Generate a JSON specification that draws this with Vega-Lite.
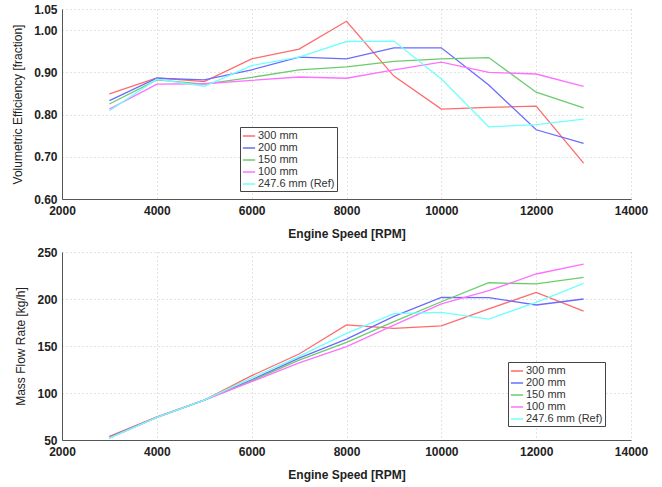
{
  "$schema": "https://vega.github.io/schema/vega-lite/v6.json",
  "padding": {"left": 11, "top": 3, "right": 5, "bottom": 3},
  "background": "white",
  "config": {
    "font": "Liberation Sans",
    "view": {"stroke": null},
    "axis": {
      "labelFont": "Liberation Sans", "labelFontSize": 12, "labelFontWeight": "bold", "labelColor": "#222",
      "titleFont": "Liberation Sans", "titleFontSize": 12, "titleColor": "#222",
      "ticks": false, "labelPadding": 5, "labelFlush": false,
      "domainColor": "#555", "domainWidth": 1,
      "gridColor": "#c8c8c8", "gridDash": [1, 3], "gridWidth": 1
    },
    "axisX": {"labelPadding": 6, "titlePadding": 12},
    "legend": {
      "labelFont": "Liberation Sans", "labelFontSize": 11, "labelColor": "#333",
      "symbolType": "stroke", "symbolSize": 150, "symbolStrokeWidth": 1.5,
      "strokeColor": "#444", "fillColor": "white", "padding": 2, "rowPadding": 0, "labelOffset": 2
    }
  },
  "datasets": {
    "runs": [
      {"rpm": 3000, "series": "300 mm", "ve": 0.849, "mfr": 54},
      {"rpm": 4000, "series": "300 mm", "ve": 0.887, "mfr": 74.5},
      {"rpm": 5000, "series": "300 mm", "ve": 0.878, "mfr": 92.5},
      {"rpm": 6000, "series": "300 mm", "ve": 0.932, "mfr": 118.4},
      {"rpm": 7000, "series": "300 mm", "ve": 0.955, "mfr": 141.5},
      {"rpm": 8000, "series": "300 mm", "ve": 1.021, "mfr": 172.5},
      {"rpm": 9000, "series": "300 mm", "ve": 0.891, "mfr": 168.8},
      {"rpm": 10000, "series": "300 mm", "ve": 0.813, "mfr": 171.5},
      {"rpm": 11000, "series": "300 mm", "ve": 0.817, "mfr": 189.4},
      {"rpm": 12000, "series": "300 mm", "ve": 0.820, "mfr": 207},
      {"rpm": 13000, "series": "300 mm", "ve": 0.685, "mfr": 187},
      {"rpm": 3000, "series": "200 mm", "ve": 0.833, "mfr": 53},
      {"rpm": 4000, "series": "200 mm", "ve": 0.886, "mfr": 74},
      {"rpm": 5000, "series": "200 mm", "ve": 0.882, "mfr": 92.5},
      {"rpm": 6000, "series": "200 mm", "ve": 0.906, "mfr": 114},
      {"rpm": 7000, "series": "200 mm", "ve": 0.936, "mfr": 137},
      {"rpm": 8000, "series": "200 mm", "ve": 0.932, "mfr": 157.4},
      {"rpm": 9000, "series": "200 mm", "ve": 0.958, "mfr": 181.6},
      {"rpm": 10000, "series": "200 mm", "ve": 0.958, "mfr": 201.8},
      {"rpm": 11000, "series": "200 mm", "ve": 0.870, "mfr": 201.5},
      {"rpm": 12000, "series": "200 mm", "ve": 0.764, "mfr": 193.6},
      {"rpm": 13000, "series": "200 mm", "ve": 0.732, "mfr": 200},
      {"rpm": 3000, "series": "150 mm", "ve": 0.825, "mfr": 52.5},
      {"rpm": 4000, "series": "150 mm", "ve": 0.882, "mfr": 74},
      {"rpm": 5000, "series": "150 mm", "ve": 0.872, "mfr": 92.5},
      {"rpm": 6000, "series": "150 mm", "ve": 0.888, "mfr": 113},
      {"rpm": 7000, "series": "150 mm", "ve": 0.906, "mfr": 135},
      {"rpm": 8000, "series": "150 mm", "ve": 0.913, "mfr": 153.9},
      {"rpm": 9000, "series": "150 mm", "ve": 0.926, "mfr": 175.9},
      {"rpm": 10000, "series": "150 mm", "ve": 0.932, "mfr": 197.1},
      {"rpm": 11000, "series": "150 mm", "ve": 0.935, "mfr": 217.3},
      {"rpm": 12000, "series": "150 mm", "ve": 0.853, "mfr": 216},
      {"rpm": 13000, "series": "150 mm", "ve": 0.816, "mfr": 223},
      {"rpm": 3000, "series": "100 mm", "ve": 0.813, "mfr": 52},
      {"rpm": 4000, "series": "100 mm", "ve": 0.872, "mfr": 74},
      {"rpm": 5000, "series": "100 mm", "ve": 0.873, "mfr": 92.5},
      {"rpm": 6000, "series": "100 mm", "ve": 0.881, "mfr": 112},
      {"rpm": 7000, "series": "100 mm", "ve": 0.889, "mfr": 132},
      {"rpm": 8000, "series": "100 mm", "ve": 0.886, "mfr": 149.3},
      {"rpm": 9000, "series": "100 mm", "ve": 0.906, "mfr": 172.3},
      {"rpm": 10000, "series": "100 mm", "ve": 0.924, "mfr": 194.7},
      {"rpm": 11000, "series": "100 mm", "ve": 0.900, "mfr": 208.8},
      {"rpm": 12000, "series": "100 mm", "ve": 0.896, "mfr": 226.6},
      {"rpm": 13000, "series": "100 mm", "ve": 0.867, "mfr": 237},
      {"rpm": 3000, "series": "247.6 mm (Ref)", "ve": 0.809, "mfr": 52},
      {"rpm": 4000, "series": "247.6 mm (Ref)", "ve": 0.884, "mfr": 74},
      {"rpm": 5000, "series": "247.6 mm (Ref)", "ve": 0.867, "mfr": 92.5},
      {"rpm": 6000, "series": "247.6 mm (Ref)", "ve": 0.916, "mfr": 116},
      {"rpm": 7000, "series": "247.6 mm (Ref)", "ve": 0.936, "mfr": 139},
      {"rpm": 8000, "series": "247.6 mm (Ref)", "ve": 0.973, "mfr": 163.5},
      {"rpm": 9000, "series": "247.6 mm (Ref)", "ve": 0.974, "mfr": 184.4},
      {"rpm": 10000, "series": "247.6 mm (Ref)", "ve": 0.884, "mfr": 185.8},
      {"rpm": 11000, "series": "247.6 mm (Ref)", "ve": 0.771, "mfr": 178.7},
      {"rpm": 12000, "series": "247.6 mm (Ref)", "ve": 0.776, "mfr": 196.5},
      {"rpm": 13000, "series": "247.6 mm (Ref)", "ve": 0.789, "mfr": 216.7}
    ]
  },
  "spacing": 7,
  "resolve": {"legend": {"color": "independent"}},
  "vconcat": [
    {
      "width": 569,
      "height": 190,
      "data": {"name": "runs"},
      "mark": {"type": "line", "strokeWidth": 1.3},
      "encoding": {
        "x": {"field": "rpm", "type": "quantitative", "scale": {"domain": [2000, 14000], "nice": false},
              "axis": {"title": "Engine Speed [RPM]", "titleFontWeight": "bold", "values": [2000, 4000, 6000, 8000, 10000, 12000, 14000], "format": "d"}},
        "y": {"field": "ve", "type": "quantitative", "scale": {"domain": [0.6, 1.05], "nice": false, "zero": false},
              "axis": {"title": "Volumetric Efficiency [fraction]", "titleFontWeight": "normal", "values": [0.6, 0.7, 0.8, 0.9, 1.0, 1.05], "format": ".2f", "titlePadding": 9}},
        "color": {"field": "series", "type": "nominal",
                  "scale": {"domain": ["300 mm", "200 mm", "150 mm", "100 mm", "247.6 mm (Ref)"], "range": ["#ff6b6b", "#6b6bff", "#6ccc6c", "#ff70ff", "#70ffff"]},
                  "legend": {"title": null, "orient": "none", "legendX": 178, "legendY": 118,
                             "labelExpr": "datum.label + '\u00a0\u00a0\u00a0\u00a0'"}},
        "order": {"field": "rpm"}
      }
    },
    {
      "width": 569,
      "height": 188,
      "data": {"name": "runs"},
      "mark": {"type": "line", "strokeWidth": 1.3},
      "encoding": {
        "x": {"field": "rpm", "type": "quantitative", "scale": {"domain": [2000, 14000], "nice": false},
              "axis": {"title": "Engine Speed [RPM]", "titleFontWeight": "bold", "values": [2000, 4000, 6000, 8000, 10000, 12000, 14000], "format": "d"}},
        "y": {"field": "mfr", "type": "quantitative", "scale": {"domain": [50, 250], "nice": false, "zero": false},
              "axis": {"title": "Mass Flow Rate [kg/h]", "titleFontWeight": "normal", "values": [50, 100, 150, 200, 250], "titlePadding": 9}},
        "color": {"field": "series", "type": "nominal",
                  "scale": {"domain": ["300 mm", "200 mm", "150 mm", "100 mm", "247.6 mm (Ref)"], "range": ["#ff6b6b", "#6b6bff", "#6ccc6c", "#ff70ff", "#70ffff"]},
                  "legend": {"title": null, "orient": "none", "legendX": 446, "legendY": 110,
                             "labelExpr": "datum.label + '\u00a0\u00a0\u00a0\u00a0\u00a0\u00a0'"}},
        "order": {"field": "rpm"}
      }
    }
  ]
}
